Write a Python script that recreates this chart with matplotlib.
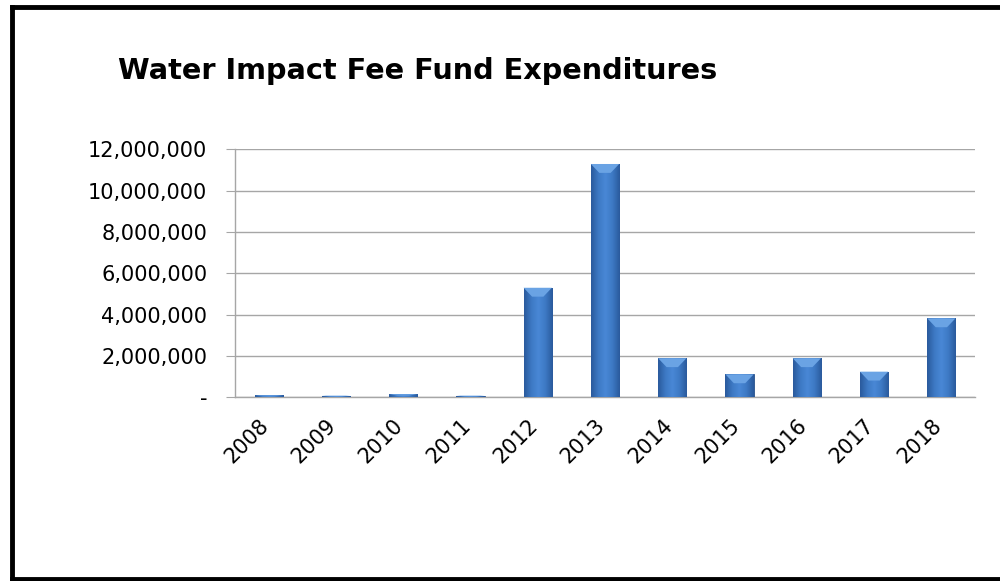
import numpy as np
import matplotlib
matplotlib.use("Agg")
import matplotlib.pyplot as plt
from matplotlib.patches import Polygon
from matplotlib.colors import LinearSegmentedColormap
from matplotlib.ticker import FuncFormatter

plt.rcParams['font.family'] = ['DejaVu Sans']

years = ['2008', '2009', '2010', '2011', '2012', '2013', '2014', '2015', '2016', '2017', '2018']
expenditures = [90000, 80000, 150000, 80000, 5300000, 11290000, 1890000, 1110000, 1890000, 1240000, 3820000]
y_ticks = [0, 2000000, 4000000, 6000000, 8000000, 10000000, 12000000]
title = 'Water Impact Fee Fund Expenditures'

fig = plt.figure(figsize=(10, 5.81), dpi=100)
ax = fig.add_axes([0.235, 0.3162, 0.740, 0.4268])

x = np.arange(len(years))
width = 0.42
bars = ax.bar(x, expenditures, width=width, color='#3b72bb', edgecolor='#28508a',
              linewidth=0.6, zorder=3)

# horizontal shading across each bar: darker edges, lighter middle
shade = LinearSegmentedColormap.from_list(
    'bar_shade', ['#2a5a9c', '#3d79c4', '#4988d6', '#3d79c4', '#2a5a9c'])
grad = np.linspace(0, 1, 64).reshape(1, -1)
for rect in bars:
    x0, w, h = rect.get_x(), rect.get_width(), rect.get_height()
    im = ax.imshow(grad, cmap=shade, aspect='auto', extent=(x0, x0 + w, 0, h),
                   zorder=3.5, interpolation='bicubic')
    im.set_clip_path(rect)

# bevelled top face of each bar
for rect in bars:
    x0, w, h = rect.get_x(), rect.get_width(), rect.get_height()
    depth = min(430000, h * 0.45)
    inset = w * 0.3
    bevel = Polygon([(x0, h), (x0 + w, h), (x0 + w - inset, h - depth), (x0 + inset, h - depth)],
                    closed=True, facecolor='#6aa3e4', edgecolor='none', zorder=4)
    ax.add_patch(bevel)

ax.set_xlim(-0.5, len(years) - 0.5)
ax.set_ylim(0, 12000000)
ax.set_yticks(y_ticks)
ax.yaxis.set_major_formatter(FuncFormatter(lambda v, p: '-' if v == 0 else f'{int(v):,}'))
# rotated year labels: their upper-right end sits just under each category centre
label_offset = 0.15
ax.set_xticks(x - label_offset)
ax.set_xticklabels(years, rotation=45, ha='right', va='top', rotation_mode='anchor')

ax.grid(axis='y', color='#a6a6a6', linewidth=1.0, zorder=0)
ax.set_axisbelow(True)
for side in ['top', 'right']:
    ax.spines[side].set_visible(False)
ax.spines['left'].set_color('#a6a6a6')
ax.spines['bottom'].set_color('#a6a6a6')
ax.spines['left'].set_linewidth(1.0)
ax.spines['bottom'].set_linewidth(1.0)
ax.tick_params(axis='y', length=6.5, color='#a6a6a6', labelsize=15, pad=13.5, labelcolor='black')
ax.tick_params(axis='x', length=0, labelsize=15, pad=13, labelcolor='black')

fig.text(0.118, 0.864, title, fontsize=20.7, fontweight='bold', ha='left', va='baseline')

# black frame around the chart
frame_kw = dict(color='black', linewidth=3.5, transform=fig.transFigure, clip_on=False)
fig.add_artist(plt.Line2D([0.0115, 1.0], [0.988, 0.988], **frame_kw))
fig.add_artist(plt.Line2D([0.0115, 0.0115], [0.0, 0.988], **frame_kw))
fig.add_artist(plt.Line2D([0.0115, 1.0], [0.0035, 0.0035], **frame_kw))

fig.savefig('out.png', dpi=100)
